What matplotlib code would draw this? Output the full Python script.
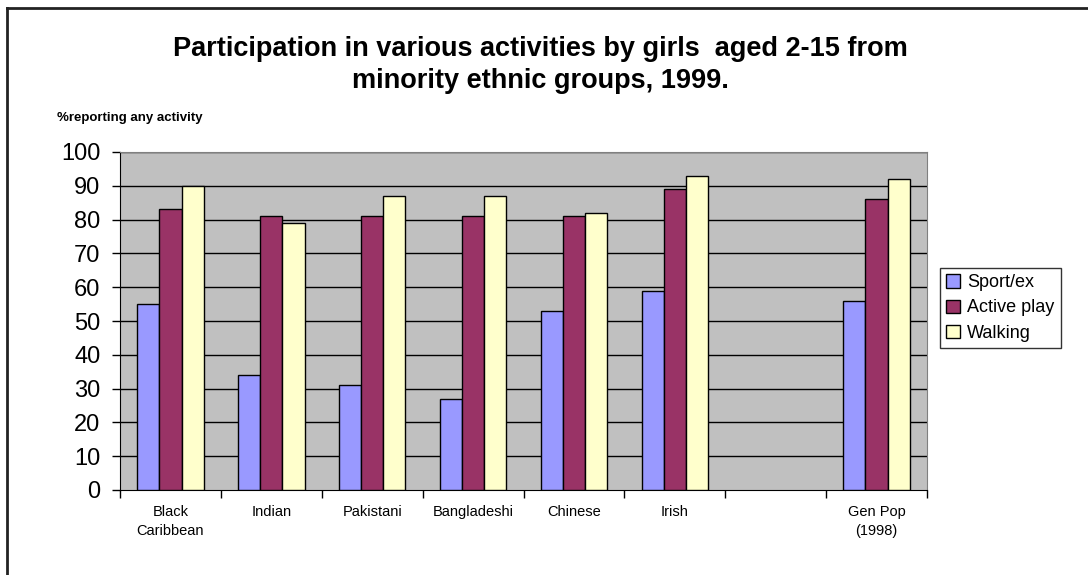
import matplotlib
matplotlib.use("Agg")
import matplotlib.pyplot as plt
import numpy as np
from matplotlib.lines import Line2D

plt.rcParams['font.family'] = ['Liberation Sans', 'DejaVu Sans']

# groups (one empty slot before the general population bar)
categories = ['Black\nCaribbean', 'Indian', 'Pakistani', 'Bangladeshi',
              'Chinese', 'Irish', '', 'Gen Pop\n(1998)']
sport_ex = [55, 34, 31, 27, 53, 59, np.nan, 56]
active_play = [83, 81, 81, 81, 81, 89, np.nan, 86]
walking = [90, 79, 87, 87, 82, 93, np.nan, 92]
series_names = ['Sport/ex', 'Active play', 'Walking']
yticks = list(range(0, 101, 10))

colors = ['#9999FF', '#993366', '#FFFFCC']

fig = plt.figure(figsize=(10.88, 5.75), dpi=100)
ax = fig.add_axes([120 / 1088, 85 / 575, 807 / 1088, 338 / 575])
ax.set_facecolor('#C0C0C0')

x = np.arange(len(categories))
w = 0.22
for i, (vals, name) in enumerate(zip([sport_ex, active_play, walking], series_names)):
    ax.bar(x + (i - 1) * w, vals, width=w, color=colors[i], edgecolor='black',
           linewidth=1, label=name, zorder=3)

ax.set_ylim(0, 100)
ax.set_xlim(-0.5, len(categories) - 0.5)
ax.set_yticks(yticks)
ax.tick_params(axis='y', labelsize=17, length=6, width=1, direction='out', pad=8)
for y in yticks[1:]:
    ax.axhline(y, color='black', linewidth=1, zorder=1)

# tick marks between groups, labels at group centres
ax.set_xticks(np.arange(-0.5, len(categories)), labels=[])
ax.set_xticks(x, labels=categories, minor=True)
ax.tick_params(axis='x', which='major', length=6, width=1, direction='out')
ax.tick_params(axis='x', which='minor', length=0, labelsize=10.5, pad=11)
for lbl in ax.get_xticklabels(minor=True):
    lbl.set_linespacing(1.4)

for side in ['left', 'bottom']:
    ax.spines[side].set_color('black')
for side in ['top', 'right']:
    ax.spines[side].set_color('#808080')

fig.text(0.497, 1 - 65 / 575,
         'Participation in various activities by girls  aged 2-15 from\n'
         'minority ethnic groups, 1999.',
         ha='center', va='center', fontsize=19.5, fontweight='bold', linespacing=1.3)
fig.text(57 / 1088, 1 - 118 / 575, '%reporting any activity',
         ha='left', va='center', fontsize=9.5, fontweight='bold')

leg = fig.legend(loc='center left', bbox_to_anchor=(940 / 1088, 1 - 308 / 575),
                 fontsize=13, frameon=True, fancybox=False, edgecolor='black',
                 handlelength=0.75, handleheight=0.75, handletextpad=0.4,
                 labelspacing=0.45, borderpad=0.35, borderaxespad=0)
leg.get_frame().set_linewidth(1)

# outer chart frame (left and top edges)
fig.add_artist(Line2D([7 / 1088, 7 / 1088], [0, 1 - 8 / 575], color='#222222',
                      linewidth=2, transform=fig.transFigure))
fig.add_artist(Line2D([7 / 1088, 1], [1 - 8 / 575, 1 - 8 / 575], color='#222222',
                      linewidth=2, transform=fig.transFigure))

fig.savefig('out.png', dpi=100, facecolor='white')
